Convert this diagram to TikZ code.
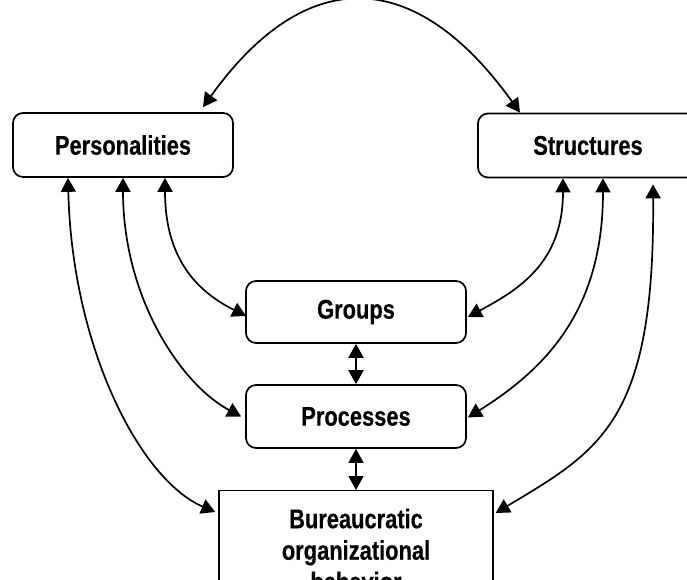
\documentclass[tikz,border=0pt]{standalone}
\usepackage{fontspec}
\newfontfamily\lbl{Liberation Sans Bold}[FakeStretch=0.81, FakeBold=0.4]
\usetikzlibrary{arrows.meta,calc}
\tikzset{
  rbox/.style={draw, line width=1.7pt, rounded corners=10pt, minimum width=220pt,
    font=\fontsize{27}{30}\lbl, inner sep=0pt},
  sbox/.style={draw, line width=1.3pt, minimum width=274pt, align=center,
    font=\fontsize{27}{31.5}\lbl, inner ysep=18pt, anchor=north},
  link/.style={line width=1.7pt, {Triangle[length=14pt,width=15pt]}-{Triangle[length=14pt,width=15pt]}}
}
\begin{document}
\begin{tikzpicture}[x=1pt,y=-1pt]
\path[use as bounding box, fill=white] (0,0) rectangle (687,580);
\clip (0,0) rectangle (687,580);
\node[rbox, minimum height=64pt] (pers) at (123,145) {Personalities};
\node[rbox, minimum height=64pt] (struct) at (588,145.5) {Structures};
\node[rbox, minimum height=62pt] (groups) at (356,312) {Groups};
\node[rbox, minimum height=63pt] (proc) at (356,416.5) {Processes};
\node[sbox] (bur) at (356,490) {Bureaucratic\\organizational\\behavior};
% top arc
\draw[link] ($(pers.north)+(80,-5)$) .. controls +(104,-145) and +(-104,-145) .. ($(struct.north)+(-68,0)$);
% left side
\draw[link] ($(pers.south)+(42,0)$) .. controls +(0,80) and +(-50,-25) .. ($(groups.west)+(1,4)$);
\draw[link] (pers.south) .. controls +(0,120) and +(-60,-32) .. ($(proc.west)+(-4,0)$);
\draw[link] ($(pers.south)+(-55,0)$) .. controls +(4,170) and +(-75,-32) .. ($(bur.north west)+(-3,22)$);
% right side
\draw[link] ($(struct.south)+(-25,0)$) .. controls +(0,85) and +(50,-27) .. ($(groups.east)+(1,5)$);
\draw[link] ($(struct.south)+(15,0)$) .. controls +(0,130) and +(80,-50) .. ($(proc.east)+(1,1)$);
\draw[link] ($(struct.south)+(65,6)$) .. controls +(2,237) and +(105,-63) .. ($(bur.north east)+(2,23)$);
% vertical links
\draw[link] (groups.south) -- (proc.north);
\draw[link] (proc.south) -- (bur.north);
\end{tikzpicture}
\end{document}
